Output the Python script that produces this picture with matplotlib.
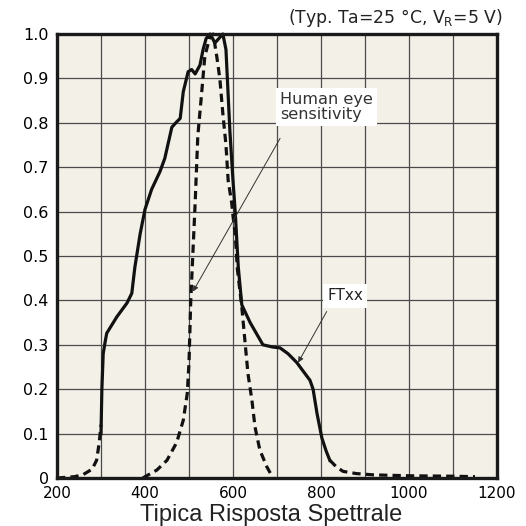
import matplotlib.pyplot as plt

# FTxx spectral response (solid part)
ft_nm = [300, 302, 305, 310, 313, 336, 359, 370, 377, 389, 400, 415, 434, 445, 461, 470,
         480, 487, 498, 506, 514, 525, 532, 539, 548, 559, 568, 577, 584, 593, 600, 605,
         612, 620, 639, 668, 690, 707, 725, 745, 775, 782, 791, 802, 812, 820]
ft_val = [0.10, 0.20, 0.28, 0.31, 0.326, 0.363, 0.394, 0.416, 0.475, 0.55, 0.605, 0.65,
          0.69, 0.72, 0.79, 0.80, 0.81, 0.87, 0.915, 0.92, 0.91, 0.93, 0.965, 0.99, 1.0,
          0.98, 0.99, 1.0, 0.965, 0.78, 0.67, 0.60, 0.475, 0.39, 0.35, 0.30, 0.295, 0.293,
          0.28, 0.26, 0.22, 0.20, 0.145, 0.09, 0.06, 0.04]

# FTxx tails (dashed)
tail_left_nm = [200, 240, 260, 280, 290, 296, 300]
tail_left_val = [0.0, 0.003, 0.008, 0.02, 0.04, 0.08, 0.12]
tail_right_nm = [820, 835, 850, 880, 920, 1000, 1100, 1150]
tail_right_val = [0.04, 0.025, 0.015, 0.01, 0.007, 0.005, 0.004, 0.003]

# human eye sensitivity
eye_nm = [395, 427, 450, 472, 487, 496, 500, 504, 509, 514, 520, 529, 536, 548, 555, 563,
          570, 577, 584, 589, 597, 600, 605, 610, 620, 627, 634, 643, 650, 661, 677, 691]
eye_val = [0.0, 0.018, 0.04, 0.08, 0.13, 0.19, 0.26, 0.40, 0.51, 0.62, 0.77, 0.87, 0.95,
           0.995, 1.0, 0.95, 0.90, 0.82, 0.75, 0.67, 0.62, 0.59, 0.55, 0.47, 0.385, 0.31,
           0.235, 0.175, 0.115, 0.063, 0.025, 0.0]

x_ticks = [200, 400, 600, 800, 1000, 1200]
y_ticks = [0, 0.1, 0.2, 0.3, 0.4, 0.5, 0.6, 0.7, 0.8, 0.9, 1.0]
y_labels = ['0', '0.1', '0.2', '0.3', '0.4', '0.5', '0.6', '0.7', '0.8', '0.9', '1.0']

plt.rcParams['font.family'] = 'DejaVu Sans'

fig = plt.figure(figsize=(5.26, 5.26), dpi=100)
ax = fig.add_axes([57 / 526, 48 / 526, 440 / 526, 444 / 526])
ax.set_facecolor('#f3f0e7')

ax.set_xlim(200, 1200)
ax.set_ylim(0, 1.0)
ax.set_xticks(x_ticks)
ax.set_xticks(range(300, 1200, 200), minor=True)
ax.set_yticks(y_ticks)
ax.set_yticklabels(y_labels)
ax.grid(True, which='both', color='#4a4a4a', lw=0.9)
ax.set_axisbelow(True)
ax.tick_params(which='both', length=0)
ax.tick_params(axis='x', pad=5.5, labelsize=11)
ax.tick_params(axis='y', pad=6, labelsize=11.5)
for s in ax.spines.values():
    s.set_linewidth(2.4)
    s.set_color('#1a1a1a')

dash = (2.6, 1.6)
ax.plot(eye_nm, eye_val, color='#111111', lw=2.3, ls=(0, dash), clip_on=False)
ax.plot(tail_left_nm, tail_left_val, color='#111111', lw=2.3, ls=(0, dash), clip_on=False)
ax.plot(tail_right_nm, tail_right_val, color='#111111', lw=2.3, ls=(0, dash), clip_on=False)
ax.plot(ft_nm, ft_val, color='#111111', lw=2.3, solid_joinstyle='round', clip_on=False)

box = dict(facecolor='white', edgecolor='none', pad=3)
ax.text(707, 0.835, 'Human eye\nsensitivity', fontsize=11.6, ha='left', va='center',
        linespacing=1.0, color='#333333', bbox=box)
ax.annotate('', xy=(509, 0.42), xytext=(707, 0.765),
            arrowprops=dict(arrowstyle='-|>', color='#333333', lw=0.7,
                            mutation_scale=8, shrinkA=0, shrinkB=0))
ax.text(855, 0.41, 'FTxx', fontsize=11, ha='center', va='center', color='#222222', bbox=box)
ax.annotate('', xy=(748, 0.26), xytext=(813, 0.375),
            arrowprops=dict(arrowstyle='-|>', color='#333333', lw=0.7,
                            mutation_scale=8, shrinkA=0, shrinkB=0))

fig.text(503 / 526, 1 - 18 / 526, '(Typ. Ta=25 °C, V$_{\\mathregular{R}}$=5 V)',
         fontsize=12.4, ha='right', va='center', color='#222222')
fig.text(271 / 526, 1 - 515 / 526, 'Tipica Risposta Spettrale', fontsize=17,
         family='Liberation Sans', ha='center', va='center', color='#222222')

fig.savefig('out.png', dpi=100)
